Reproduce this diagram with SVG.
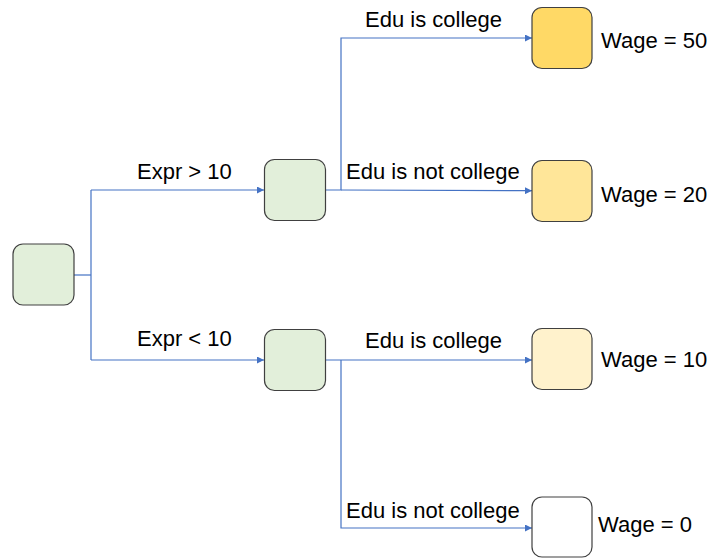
<svg xmlns="http://www.w3.org/2000/svg" width="710" height="559" viewBox="0 0 710 559">
<style>
.box{stroke:#404040;stroke-width:1.2}
.g{fill:#E2EFDA}
.c{fill:none;stroke:#4472C4;stroke-width:1.2}
text{font-family:"Liberation Sans",Arial,sans-serif;font-size:22px;fill:#000}
</style>
<defs>
<marker id="ah" viewBox="0 0 10 10" refX="10" refY="5" markerWidth="7" markerHeight="7" markerUnits="userSpaceOnUse" orient="auto">
<path d="M0,0 L10,5 L0,10 z" fill="#4472C4"/>
</marker>
</defs>
<rect width="710" height="559" fill="#fff"/>
<g id="connectors">
<path class="c" d="M74,275 H91"/>
<path class="c" d="M91,190 V360"/>
<path class="c" d="M91,190 H264" marker-end="url(#ah)"/>
<path class="c" d="M91,360 H264" marker-end="url(#ah)"/>
<path class="c" d="M325,190 H341 V38 H532" marker-end="url(#ah)"/>
<path class="c" d="M341,190 L532,190.7" marker-end="url(#ah)"/>
<path class="c" d="M325,360 H532" marker-end="url(#ah)"/>
<path class="c" d="M341,360 V528 H532" marker-end="url(#ah)"/>
</g>
<g id="root"><rect class="box g" x="13" y="244" width="61" height="61" rx="10"/></g>
<g id="expr_gt"><rect class="box g" x="264.5" y="159.5" width="61" height="61" rx="10"/></g>
<g id="expr_lt"><rect class="box g" x="264.5" y="329.5" width="61" height="61" rx="10"/></g>
<g id="leaf50"><rect class="box" fill="#FFD966" x="532" y="7.5" width="60" height="61" rx="10"/><text x="601" y="48">Wage = 50</text></g>
<g id="leaf20"><rect class="box" fill="#FFE699" x="532" y="160.5" width="60" height="61" rx="10"/><text x="601" y="202">Wage = 20</text></g>
<g id="leaf10"><rect class="box" fill="#FFF2CC" x="532" y="328.5" width="60" height="61" rx="10"/><text x="601" y="367">Wage = 10</text></g>
<g id="leaf0"><rect class="box" fill="#fff" x="532" y="497" width="60" height="60" rx="10"/><text x="598" y="532">Wage = 0</text></g>
<g id="labels">
<text x="137" y="179">Expr &gt; 10</text>
<text x="137" y="346">Expr &lt; 10</text>
<text x="365" y="27">Edu is college</text>
<text x="346" y="179">Edu is not college</text>
<text x="365" y="348">Edu is college</text>
<text x="346" y="518">Edu is not college</text>
</g>
</svg>
